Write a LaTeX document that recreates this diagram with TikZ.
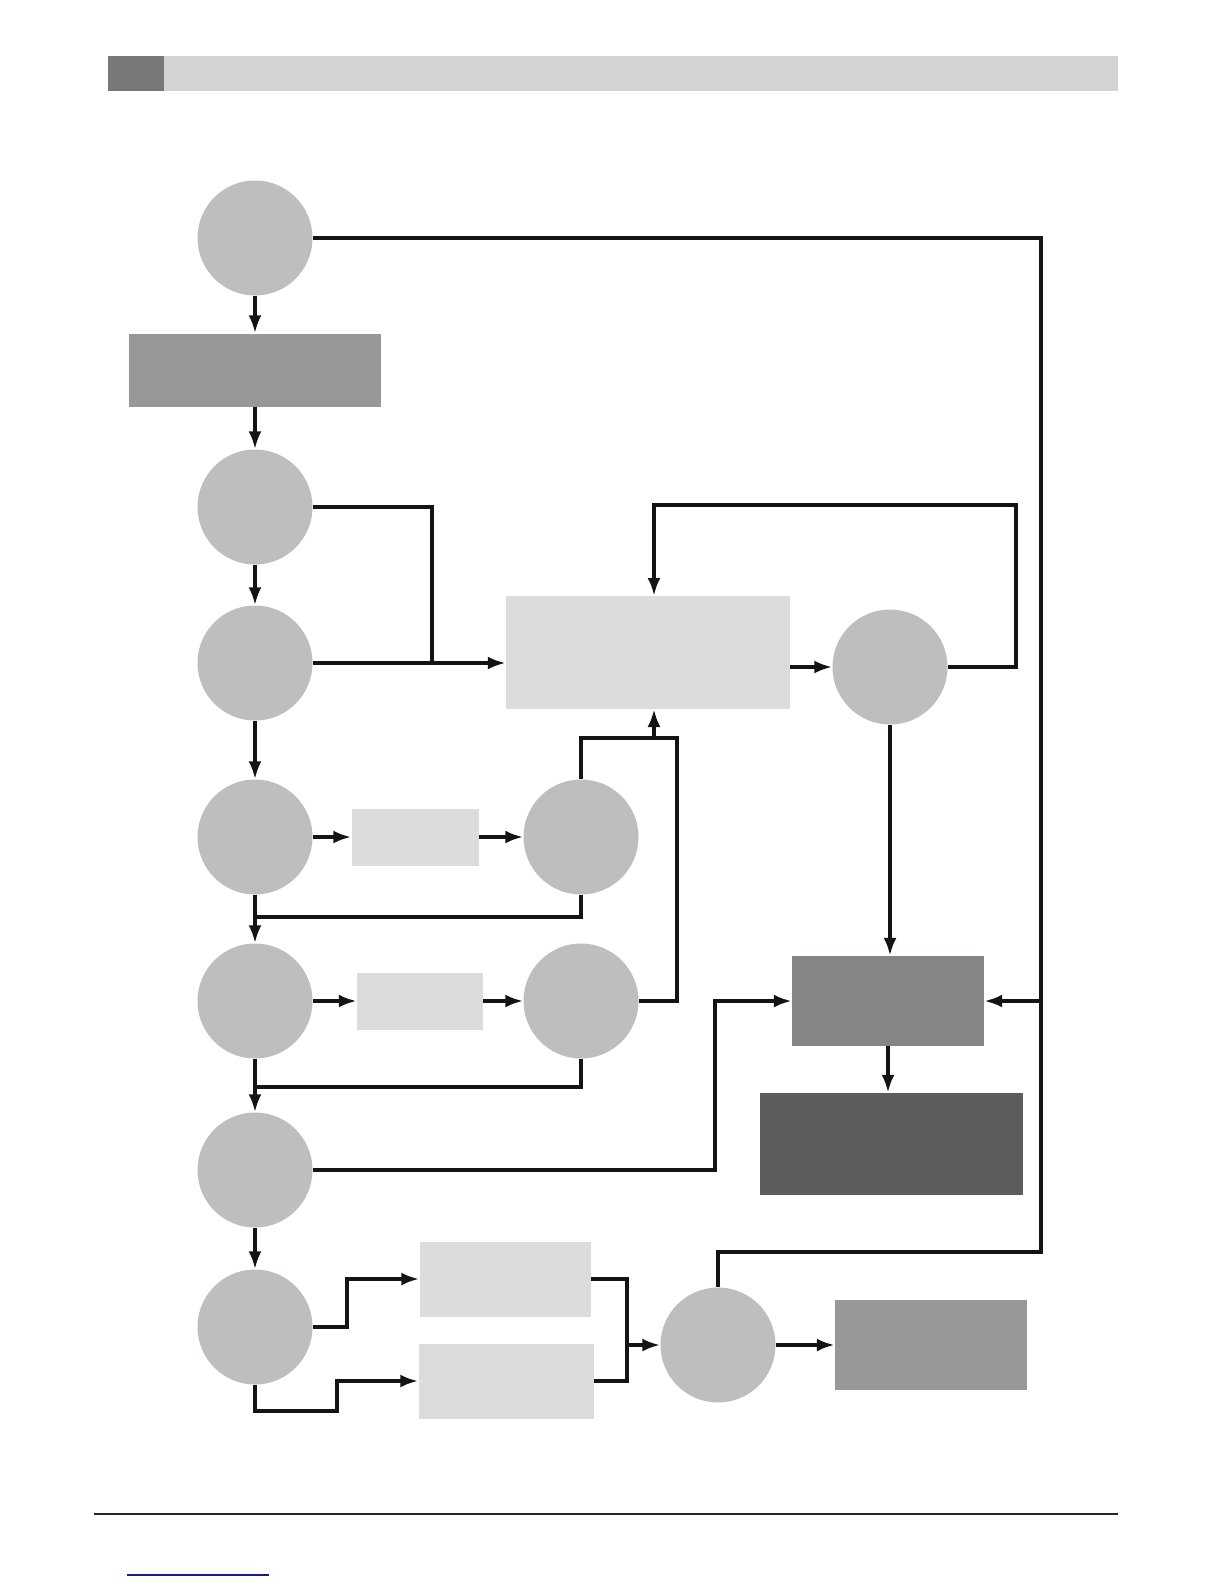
\documentclass[tikz,border=0pt]{standalone}
\usepackage{tikz}
\usetikzlibrary{arrows.meta,calc,positioning}
\definecolor{FlowDisc}{HTML}{BDBEBF}
\definecolor{FlowPale}{HTML}{DCDCDC}
\definecolor{FlowMid}{HTML}{97989A}
\definecolor{FlowDeep}{HTML}{838587}
\definecolor{FlowDark}{HTML}{5B5D5F}
\definecolor{FlowHead}{HTML}{797777}
\definecolor{FlowBar}{HTML}{D3D3D3}
\definecolor{FlowLink}{HTML}{1A1A8C}

\begin{document}
\begin{tikzpicture}[x=1pt,y=-1pt,
  disc/.style={circle, fill=FlowDisc, minimum size=115pt, inner sep=0pt},
  panel/.style={rectangle, inner sep=0pt},
  wire/.style={line width=4.5pt, black!92},
  flow/.style={wire, -{Latex[length=18pt,width=13pt]}}]
  \useasboundingbox (0,0) rectangle (1224,1584);

  % Page header and footer
  \fill[FlowHead] (108,56) rectangle (164,91);
  \fill[FlowBar] (164,56) rectangle (1118,91);
  \draw[line width=1.5pt, black!85] (94,1514) -- (1118,1514);
  \draw[line width=1.6pt, FlowLink] (127,1575) -- (269,1575);

  % Left column
  \node[disc] (c1) at (255,238) {};
  \node[panel, fill=FlowMid, minimum width=252pt, minimum height=73pt] (prep) at (255,370) {};
  \node[disc] (c2) at (255,507) {};
  \node[disc] (c3) at (255,663) {};
  \node[disc] (c4) at (255,837) {};
  \node[disc] (c5) at (255,1001) {};
  \node[disc] (c6) at (255,1170) {};
  \node[disc] (c7) at (255,1327) {};

  % Middle and right
  \node[panel, fill=FlowPale, minimum width=284pt, minimum height=113pt] (core) at (648,652) {};
  \node[disc] (c8) at (890,667) {};
  \node[panel, fill=FlowPale, minimum width=127pt, minimum height=57pt] (s1) at (415,837) {};
  \node[disc] (c9) at (581,837) {};
  \node[panel, fill=FlowPale, minimum width=126pt, minimum height=57pt] (s2) at (420,1001) {};
  \node[disc] (c10) at (581,1001) {};
  \node[panel, fill=FlowDeep, minimum width=192pt, minimum height=90pt] (merge) at (888,1001) {};
  \node[panel, fill=FlowDark, minimum width=263pt, minimum height=102pt] (out) at (891,1144) {};
  \node[panel, fill=FlowPale, minimum width=171pt, minimum height=75pt] (b1) at (505,1279) {};
  \node[panel, fill=FlowPale, minimum width=175pt, minimum height=75pt] (b2) at (506,1381) {};
  \node[disc] (c11) at (718,1345) {};
  \node[panel, fill=FlowMid, minimum width=192pt, minimum height=90pt] (fin) at (931,1345) {};

  % Main chain
  \draw[flow] (c1) -- (prep);
  \draw[flow] (prep) -- (c2);
  \draw[flow] (c2) -- (c3);
  \draw[flow] (c3) -- (c4);
  \draw[flow] (c4) -- (c5);
  \draw[flow] (c5) -- (c6);
  \draw[flow] (c6) -- (c7);

  % Into the core box
  \draw[wire] (c2.east) -- (432,507) -- (432,663);
  \draw[flow] (c3.east) -- (core.west |- c3);
  \draw[flow] (core.east |- c8) -- (c8.west);
  \draw[flow] (c8.east) -- (1016,667) -- (1016,505) -- (654,505) -- (654,596);
  \draw[flow] (c8.south) -- (merge.north -| c8);
  \draw[flow] (merge.south) -- (out.north -| merge);

  % Side loops
  \draw[flow] (c4) -- (s1);
  \draw[flow] (s1) -- (c9);
  \draw[wire] (c9.south) -- (581,917) -- (255,917);
  \draw[flow] (c5) -- (s2);
  \draw[flow] (s2) -- (c10);
  \draw[wire] (c10.south) -- (581,1087) -- (255,1087);
  \draw[wire] (c9.north) -- (581,738) -- (677,738) -- (677,1001) -- (c10.east);
  \draw[flow] (654,738) -- (654,709);

  % To the merge box
  \draw[flow] (c6.east) -- (715,1170) -- (715,1001) -- (merge.west);
  \draw[wire] (c1.east) -- (1041,238) -- (1041,1252) -- (718,1252) -- (c11.north);
  \draw[flow] (1041,1001) -- (merge.east);

  % Bottom split
  \draw[flow] (c7.east) -- (347,1327) -- (347,1279) -- (b1.west);
  \draw[flow] (c7.south) -- (255,1411) -- (337,1411) -- (337,1381) -- (b2.west);
  \draw[wire] (b1.east) -- (627,1279) -- (627,1381) -- (b2.east);
  \draw[flow] (627,1345) -- (c11.west);
  \draw[flow] (c11.east) -- (fin.west);
\end{tikzpicture}
\end{document}
